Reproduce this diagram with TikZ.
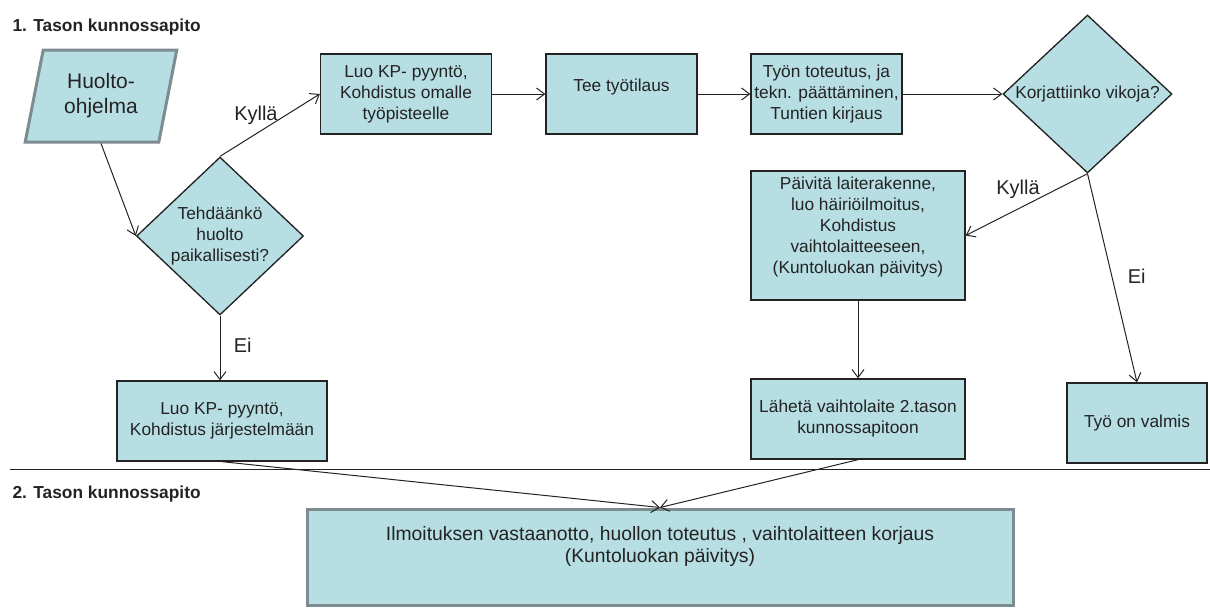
\documentclass[tikz,border=0pt]{standalone}
\usepackage{fontspec}
\setmainfont{Liberation Sans}
\usetikzlibrary{arrows.meta,shapes.geometric}
\definecolor{ink}{RGB}{35,35,35}
\definecolor{frame}{RGB}{125,140,145}
\definecolor{boxfill}{RGB}{183,222,227}
\tikzset{
  every picture/.style={color=ink, line width=0.75pt},
  box/.style={draw=ink, fill=boxfill, line width=1pt, align=center, inner sep=0pt, minimum height=60pt, font=\fontsize{13}{15.75}\selectfont},
  ask/.style={diamond, draw=ink, fill=boxfill, line width=1pt, align=center, inner xsep=-40pt, inner ysep=-12pt, font=\fontsize{13}{15.75}\selectfont},
  srcbox/.style={trapezium, trapezium left angle=76.5, trapezium right angle=103.5, trapezium stretches=true, draw=frame, line width=2.25pt, fill=boxfill, align=center, font=\fontsize{15.75}{18.75}\selectfont},
  lvltwo/.style={box, draw=frame, line width=2.25pt},
  flow/.style={-{Straight Barb[length=6pt,width=9pt]}, line width=0.75pt},
  lbl/.style={font=\fontsize{15}{18}\selectfont, inner sep=0pt},
  heading/.style={font=\bfseries\fontsize{13}{15}\selectfont, anchor=base west, inner sep=0pt},
}
\begin{document}
\begin{tikzpicture}[x=0.75pt, y=-0.75pt]
  \useasboundingbox (0,0) rectangle (1210,608);
  % level 1
  \node[heading] (t1) at (12,31) {1. Tason kunnossapito};
  \node[srcbox, minimum width=114pt, minimum height=69pt] (prog) at (101,96) {Huolto-\\ohjelma};
  \node[ask, minimum width=125.25pt, minimum height=118.5pt] (dec1) at (220,236) {Tehdäänkö\\huolto\\paikallisesti?};
  \node[box, minimum width=128.25pt] (b1) at (406,94) {Luo KP- pyyntö,\\Kohdistus omalle\\työpisteelle};
  \node[box, minimum width=113.25pt, minimum height=0pt, text height=27.75pt, text depth=32.25pt] (b2) at (621.5,94) {Tee työtilaus};
  \node[box, minimum width=113.25pt] (b3) at (826.5,94) {Työn toteutus, ja\\tekn. päättäminen,\\Tuntien kirjaus};
  \node[ask, minimum width=126.75pt, minimum height=118.5pt] (dec2) at (1087.5,94) {Korjattiinko vikoja?};
  \node[box, minimum width=160.5pt, minimum height=0pt, text height=76.5pt, text depth=20.25pt] (b4) at (858,235.5) {Päivitä laiterakenne,\\luo häiriöilmoitus,\\Kohdistus\\vaihtolaitteeseen,\\(Kuntoluokan päivitys)};
  \node[box, minimum width=160.5pt] (b5) at (858,419) {Lähetä vaihtolaite 2.tason\\kunnossapitoon};
  \node[box, minimum width=157.5pt] (b6) at (222,421) {Luo KP- pyyntö,\\Kohdistus järjestelmään};
  \node[box, minimum width=105pt] (b7) at (1137,423) {Työ on valmis};
  % divider
  \coordinate (split w) at (10,469);
  \coordinate (split e) at (1210,469);
  \draw (split w) -- (split e);
  % level 2
  \node[heading] (t2) at (12,498) {2. Tason kunnossapito};
  \node[lvltwo, minimum width=529.5pt, minimum height=0pt, text height=39.75pt, text depth=32.25pt, font=\fontsize{14.5}{16}\selectfont] (big) at (660,557) {Ilmoituksen vastaanotto, huollon toteutus , vaihtolaitteen korjaus\\(Kuntoluokan päivitys)};
  \draw[flow] (prog.south) -- (dec1.west);
  \draw[flow] (dec1.north) -- node[lbl, pos=.36, yshift=14pt] {Kyllä} (b1.west);
  \draw[flow] (b1.east) -- (b2.west);
  \draw[flow] (b2.east) -- (b3.west);
  \draw[flow] (b3.east) -- (dec2.west);
  \draw[flow] (dec2.south) -- node[lbl, pos=.57, yshift=15pt] {Kyllä} (b4.east);
  \draw[flow] (dec2.south) -- node[lbl, pos=.49, xshift=18.75pt] {Ei} (b7.north);
  \draw[flow] (dec1.south) -- node[lbl, pos=.45, xshift=17pt] {Ei} (dec1.south |- b6.north);
  \draw[flow] (b4.south) -- (b5.north);
  \draw[flow] (b6.south) -- (big.north);
  \draw[flow] (b5.south) -- (big.north);
\end{tikzpicture}
\end{document}
